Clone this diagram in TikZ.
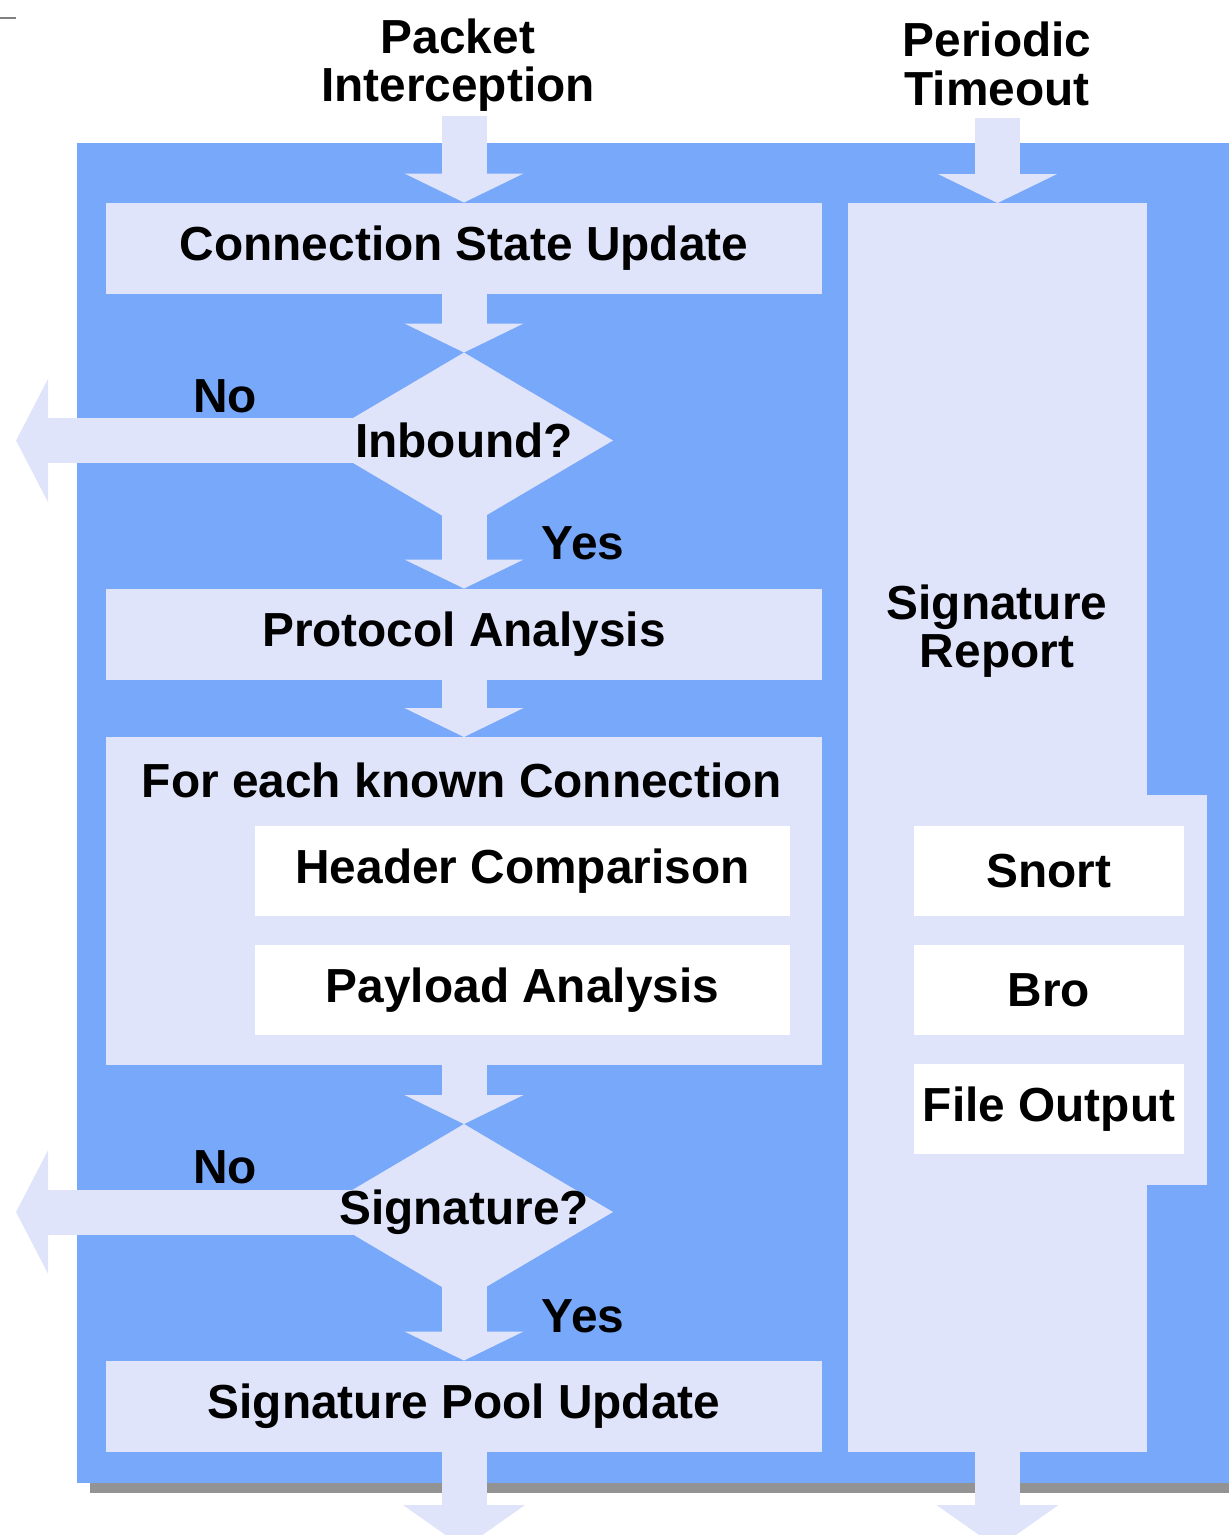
\documentclass[tikz,border=0pt]{standalone}
\usepackage{fontspec}
\setmainfont{Liberation Sans}
\usetikzlibrary{shapes.geometric,arrows.meta}
\definecolor{panel}{RGB}{120,168,250}
\definecolor{pale}{RGB}{224,228,250}
\begin{document}
\begin{tikzpicture}
	\tikzset{txt/.style = {inner sep=1pt, font=\bfseries\fontsize{13.6}{13.7}\selectfont},
		stepbox/.style = {txt, fill=pale, inner sep=0, outer sep=0, minimum width=7.16cm, minimum height=0.91cm},
		subbox/.style = {stepbox, fill=white, minimum height=0.90cm},
		test/.style = {shape=diamond, fill=pale, inner sep=0, outer sep=0, minimum width=2.98cm, minimum height=1.76cm},
		flow/.style = {draw=pale, line width=0.45cm, -{Triangle[width=1.18cm, length=0.29cm]}},
		sidetip/.style = {-{Triangle[width=1.22cm, length=0.32cm]}},
		endtip/.style = {-{Triangle[width=1.2cm, length=0.43cm]}}}

	\useasboundingbox (0,0) rectangle (12.29,-15.35);
	\draw[gray, line width=0.6pt] (0,-0.18) -- (0.16,-0.18);
	\fill[gray!85] (0.90,-14.80) rectangle (12.29,-14.93);
	\fill[panel] (0.77,-1.43) rectangle (12.29,-14.83);

	\node[txt, align=center] (In_1) at (4.58,-0.65) {Packet\\Interception};
	\node[txt, align=center, text depth=0.25em] (In_2) at (9.97,-0.68) {Periodic\\Timeout};

	\node[stepbox] (Step_1) at (4.64,-2.48) {Connection State Update};
	\node[test] (Test_1) at (4.64,-4.405) {};
	\node[stepbox] (Step_2) at (4.64,-6.34) {Protocol Analysis};
	\node[stepbox, minimum height=3.28cm] (Loop) at (4.64,-9.01) {};
	\node[txt] (Loop_t) at (4.62,-7.80) {For each known Connection};
	\node[subbox, minimum width=5.35cm] (Sub_1) at (5.225,-8.71) {Header Comparison};
	\node[subbox, minimum width=5.35cm] (Sub_2) at (5.225,-9.90) {Payload Analysis};
	\node[test] (Test_2) at (4.64,-12.12) {};
	\node[stepbox] (Step_3) at (4.64,-14.06) {Signature Pool Update};

	\node[stepbox, minimum width=2.99cm, minimum height=12.49cm] (Report) at (9.975,-8.275) {};
	\node[stepbox, minimum width=3.59cm, minimum height=3.90cm] (Report_x) at (10.275,-9.90) {};
	\node[txt, align=center] (Report_t) at (9.97,-6.31) {Signature\\Report};
	\node[subbox, minimum width=2.70cm] (Plug_1) at (10.49,-8.71) {Snort};
	\node[subbox, minimum width=2.70cm] (Plug_2) at (10.49,-9.90) {Bro};
	\node[subbox, minimum width=2.70cm] (Plug_3) at (10.49,-11.09) {File Output};

	\coordinate (No_1) at (0.16,-4.405);
	\coordinate (No_2) at (0.16,-12.12);
	\coordinate (Out_1) at (4.64,-15.48);
	\coordinate (Out_2) at (9.975,-15.48);

	\draw[flow] (In_1.south -| Step_1.north) -- (Step_1.north);
	\draw[flow] (In_2.south -| Report.north) -- (Report.north);
	\draw[flow] (Step_1.south) -- (Test_1.north);
	\draw[flow] (Test_1.center) -- (Step_2.north);
	\draw[flow, sidetip] (Test_1.center) -- (No_1);
	\draw[flow] (Step_2.south) -- (Loop.north);
	\draw[flow] (Loop.south) -- (Test_2.north);
	\draw[flow] (Test_2.center) -- (Step_3.north);
	\draw[flow, sidetip] (Test_2.center) -- (No_2);
	\draw[flow, endtip] (Step_3.south) -- (Out_1);
	\draw[flow, endtip] (Report.south) -- (Out_2);

	\node[txt] (Test_1_t) at (Test_1) {Inbound?};
	\node[txt] (Test_2_t) at (Test_2) {Signature?};
	\node[txt] (No_1_t) at (2.25,-3.96) {No};
	\node[txt] (Yes_1_t) at (5.83,-5.43) {Yes};
	\node[txt] (No_2_t) at (2.25,-11.67) {No};
	\node[txt] (Yes_2_t) at (5.83,-13.16) {Yes};

\end{tikzpicture}
\end{document}
